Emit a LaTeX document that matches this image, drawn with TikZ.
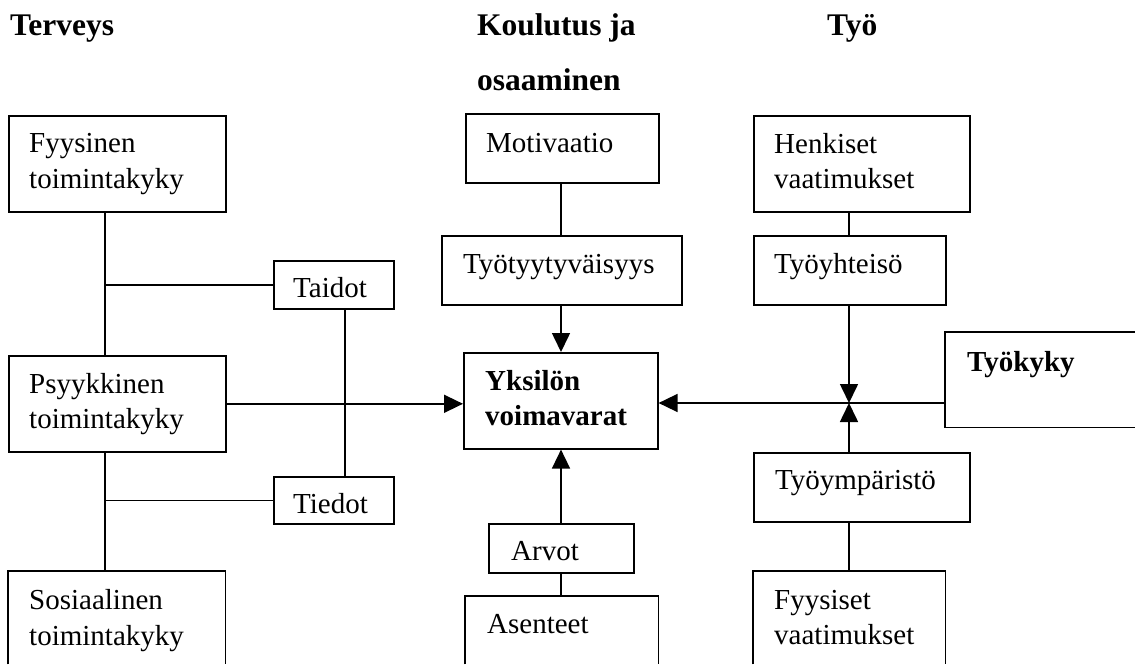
\documentclass[tikz,border=0pt]{standalone}
\usepackage{fontspec}
\setmainfont{Liberation Serif}
\usetikzlibrary{arrows.meta}
\tikzset{
 bx/.style={draw, line width=1.6pt, inner sep=0pt, anchor=north west},
 ob/.style={inner sep=0pt, anchor=north west},
 tx/.style={anchor=base west, inner sep=0pt, font=\fontsize{29}{35}\selectfont},
 tb/.style={anchor=base west, inner sep=0pt, font=\fontsize{29}{35}\selectfont\bfseries},
 hd/.style={anchor=base west, inner sep=0pt, font=\fontsize{31.5}{38}\selectfont\bfseries},
 ln/.style={line width=1.6pt},
 ar/.style={line width=1.6pt, -{Triangle[length=19pt,width=18pt]}},
}
\begin{document}
\begin{tikzpicture}[x=1pt,y=-1pt]
\useasboundingbox (0,0) rectangle (1135,664);
% headers
\node[hd] (h1) at (10,35) {Terveys};
\node[hd] (h2) at (477,35) {Koulutus ja};
\node[hd] (h3) at (477,90) {osaaminen};
\node[hd] (h4) at (827,35) {Työ};
% boxes
\node[bx, minimum width=217pt, minimum height=96pt] (fys) at (8,115) {};
\node[bx, minimum width=217pt, minimum height=96pt] (psy) at (8,355) {};
\node[ob, minimum width=217pt, minimum height=93pt] (sos) at (8,571) {};
\node[bx, minimum width=120pt, minimum height=48pt] (tai) at (273,260) {};
\node[bx, minimum width=120pt, minimum height=47pt] (tie) at (273,476) {};
\node[bx, minimum width=193pt, minimum height=69pt] (mot) at (465,113) {};
\node[bx, minimum width=240pt, minimum height=69pt] (tyy) at (441,235) {};
\node[bx, minimum width=194pt, minimum height=96pt] (yks) at (463,352) {};
\node[bx, minimum width=145pt, minimum height=49pt] (arv) at (488,523) {};
\node[ob, minimum width=193pt, minimum height=68pt] (ase) at (465,596) {};
\node[bx, minimum width=216pt, minimum height=96pt] (hen) at (753,115) {};
\node[bx, minimum width=192pt, minimum height=69pt] (tyh) at (753,235) {};
\node[ob, minimum width=190pt, minimum height=95pt] (tk) at (945,332) {};
\node[bx, minimum width=216pt, minimum height=69pt] (tym) at (753,452) {};
\node[ob, minimum width=192pt, minimum height=93pt] (fyv) at (753,571) {};
% open boxes
\draw[ln] (sos.south west) -- (sos.north west) -- (sos.north east) -- (sos.south east);
\draw[ln] (ase.south west) -- (ase.north west) -- (ase.north east) -- (ase.south east);
\draw[ln] (fyv.south west) -- (fyv.north west) -- (fyv.north east) -- (fyv.south east);
\draw[ln] (tk.north east) -- (tk.north west) -- (tk.south west) -- (tk.south east);
% texts
\node[tx] (t1) at (29,152.7) {Fyysinen};
\node[tx] (t2) at (29,188) {toimintakyky};
\node[tx] (t3) at (29,393) {Psyykkinen};
\node[tx] (t4) at (29,428) {toimintakyky};
\node[tx] (t5) at (29,609) {Sosiaalinen};
\node[tx] (t6) at (29,645) {toimintakyky};
\node[tx] (t7) at (293,297) {Taidot};
\node[tx] (t8) at (293,513) {Tiedot};
\node[tx] (t9) at (486,152) {Motivaatio};
\node[tx] (t10) at (463,273) {Työtyytyväisyys};
\node[tb] (t11) at (485,390) {Yksilön};
\node[tb] (t12) at (485,425) {voimavarat};
\node[tx] (t13) at (511,560) {Arvot};
\node[tx] (t14) at (487,633) {Asenteet};
\node[tx] (t15) at (774,153) {Henkiset};
\node[tx] (t16) at (774,188) {vaatimukset};
\node[tx] (t17) at (774,273) {Työyhteisö};
\node[tb] (t18) at (967,371) {Työkyky};
\node[tx] (t19) at (775,489) {Työympäristö};
\node[tx] (t20) at (774,609) {Fyysiset};
\node[tx] (t21) at (774,644) {vaatimukset};
% connector helpers
\coordinate (cL) at (105,0);
\coordinate (cT) at (345,0);
\coordinate (cM) at (561,0);
\coordinate (cR) at (849,0);
\coordinate (J) at (849,403);
% connectors
\draw[ln] (fys.south -| cL) -- (psy.north -| cL);
\draw[ln] (psy.south -| cL) -- (sos.north -| cL);
\draw[ln] (tai.west -| cL) -- (tai.west);
\draw[ln] (tie.west -| cL) -- (tie.west);
\draw[ln] (tai.south -| cT) -- (tie.north -| cT);
\draw[ar] (psy.east) -- (psy.east -| yks.west);
\draw[ln] (mot.south -| cM) -- (tyy.north -| cM);
\draw[ar] (tyy.south -| cM) -- (yks.north -| cM);
\draw[ar] (arv.north -| cM) -- (yks.south -| cM);
\draw[ln] (arv.south -| cM) -- (ase.north -| cM);
\draw[ln] (hen.south -| cR) -- (tyh.north -| cR);
\draw[ar] (tyh.south -| cR) -- (J);
\draw[ar] (tym.north -| cR) -- (J);
\draw[ar] (tk.west |- J) -- (J -| yks.east);
\draw[ln] (tym.south -| cR) -- (fyv.north -| cR);
\end{tikzpicture}
\end{document}
